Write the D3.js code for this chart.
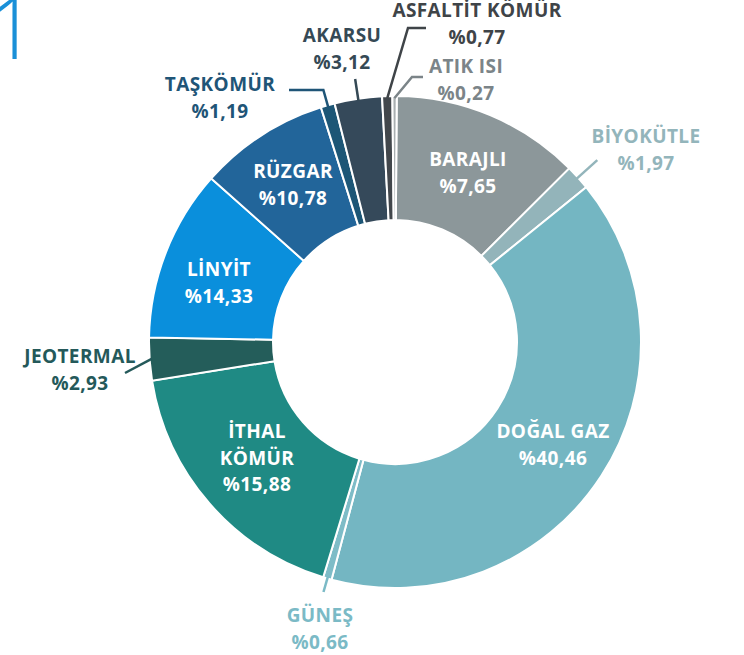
<!DOCTYPE html>
<html>
<head>
<meta charset="utf-8">
<script src="https://cdn.jsdelivr.net/npm/d3@7"></script>
<style>
  body { margin: 0; background: #fff; }
  svg { display: block; }
</style>
</head>
<body>
<script>
// energy sources, clockwise from the top
var sources = ["BARAJLI", "BİYOKÜTLE", "DOĞAL GAZ", "GÜNEŞ", "İTHAL KÖMÜR", "JEOTERMAL",
               "LİNYİT", "RÜZGAR", "TAŞKÖMÜR", "AKARSU", "ASFALTİT KÖMÜR", "ATIK ISI"];
var shareText = ["%7,65", "%1,97", "%40,46", "%0,66", "%15,88", "%2,93",
                 "%14,33", "%10,78", "%1,19", "%3,12", "%0,77", "%0,27"];
// slice sizes as they are drawn in the picture (percent of the ring)
var drawnShare = [12.42, 1.64, 40.0, 0.56, 17.78, 2.81, 11.28, 8.56, 0.92, 3.11, 0.67, 0.28];
var sliceColors = ["#8c979a", "#93b4ba", "#74b6c2", "#7ebcc7", "#1f8a84", "#245d5a",
                   "#0a8fdc", "#22659a", "#1d5676", "#35495a", "#42474c", "#a9afb1"];
var labelColors = ["#fff", "#93b5bb", "#fff", "#7bbac6", "#fff", "#24595a",
                   "#fff", "#fff", "#1f5577", "#354955", "#3f4448", "#7b8488"];

var width = 744, height = 655;
var cx = 395, cy = 342, rOut = 246, rIn = 122;

// label placement: x centre, first baseline, optional leader path
// leader entries: number = radius on slice middle, [x,y] = point, [x,null] = keep y
var labelPos = [
  {x: 468, y: 166},
  {x: 646, y: 143, lead: [272]},
  {x: 553, y: 438},
  {x: 320, y: 622, lead: [260]},
  {x: 257, y: 438, lines: ["İTHAL", "KÖMÜR"]},
  {x: 80,  y: 363, lead: [[125, 373]]},
  {x: 219, y: 276},
  {x: 293, y: 178},
  {x: 220, y: 91,  lead: [262, [289, null]]},
  {x: 342, y: 42,  lead: [266]},
  {x: 477, y: 17,  lead: [[408, 28], [426, null]]},
  {x: 466, y: 73,  lead: [[412, 77], [423, null]]}
];

var svg = d3.select("body").append("svg")
    .attr("width", width)
    .attr("height", height);

// big page number in the corner
svg.append("text")
    .attr("x", -12)
    .attr("y", 59)
    .text("1")
    .attr("fill", "#1a90d8")
    .attr("font-family", "Open Sans")
    .attr("font-weight", 300)
    .attr("font-size", "86px");

var start = 0.4 * Math.PI / 180;
var pie = d3.pie()
    .sort(null)
    .value(function(d) { return d; })
    .startAngle(start)
    .endAngle(start + 2 * Math.PI);

var arcs = pie(drawnShare);

var arc = d3.arc()
    .innerRadius(rIn)
    .outerRadius(rOut);

var g = svg.append("g")
    .attr("transform", "translate(" + cx + "," + cy + ")");

g.selectAll("path.slice")
  .data(arcs)
  .enter().append("path")
    .attr("class", "slice")
    .attr("d", arc)
    .attr("fill", function(d, i) { return sliceColors[i]; })
    .attr("stroke", "#fff")
    .attr("stroke-width", 2);

function polar(a, r) {
  return [cx + r * Math.sin(a), cy - r * Math.cos(a)];
}

// leader lines
arcs.forEach(function(d, i) {
  var p = labelPos[i];
  if (!p.lead) return;
  var mid = (d.startAngle + d.endAngle) / 2;
  var pts = [polar(mid, rOut - 2)];
  p.lead.forEach(function(s) {
    if (typeof s === "number") pts.push(polar(mid, s));
    else if (s[1] === null) pts.push([s[0], pts[pts.length - 1][1]]);
    else pts.push(s);
  });
  svg.append("path")
    .attr("d", d3.line()(pts))
    .attr("fill", "none")
    .attr("stroke", labelColors[i])
    .attr("stroke-width", 2.5);
});

// labels
labelPos.forEach(function(p, i) {
  var lines = (p.lines || [sources[i]]).concat([shareText[i]]);
  var t = svg.append("text")
    .attr("text-anchor", "middle")
    .attr("fill", labelColors[i])
    .attr("font-family", "Open Sans")
    .attr("font-weight", 700)
    .attr("font-size", "19px")
    .attr("letter-spacing", "0.4px");
  lines.forEach(function(s, k) {
    t.append("tspan")
      .attr("x", p.x)
      .attr("y", p.y + k * 26.5)
      .text(s);
  });
});
</script>
</body>
</html>
